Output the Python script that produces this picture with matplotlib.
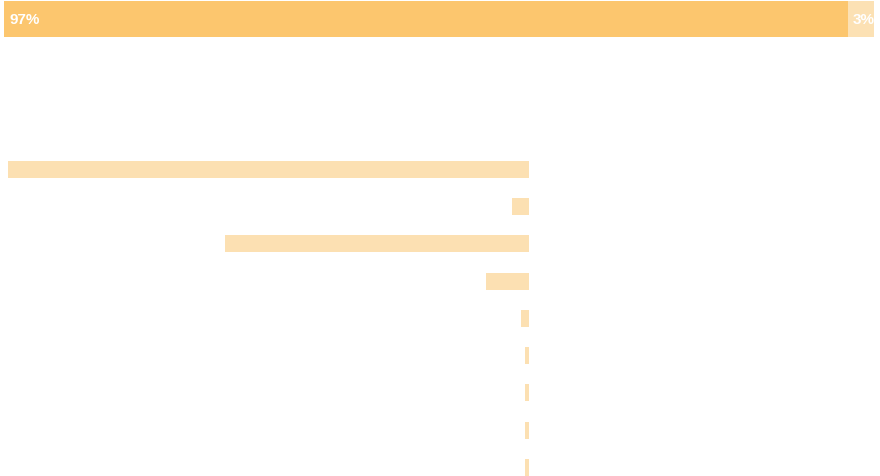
import matplotlib
matplotlib.use("Agg")
import matplotlib.pyplot as plt

share_labels = ["97%", "3%"]
share_values = [97, 3]
share_colors = ["#FCC66E", "#FCE1B4"]

categories = ["c1", "c2", "c3", "c4", "c5", "c6", "c7", "c8", "c9"]
values = [521, 17, 304, 43, 8, 4, 4, 4, 4]
bar_color = "#FCE0B2"

W, H = 880, 477
fig = plt.figure(figsize=(W/100, H/100), dpi=100)

# top stacked bar
ax1 = fig.add_axes([4/W, 1 - 38/H, 870/W, 36/H])
left = 0
for lab, v, c in zip(share_labels, share_values, share_colors):
    ax1.barh(0, v, left=left, height=1, color=c)
    ax1.text(left + 0.6, 0, lab, color="white", fontsize=11, fontweight="bold",
             va="center", ha="left", family="Liberation Sans")
    left += v
ax1.set_xlim(0, sum(share_values))
ax1.set_ylim(-0.5, 0.5)
ax1.axis("off")

# lower bars extending leftward
top_px, step = 151.5, 37.3
n = len(values)
ax2 = fig.add_axes([8/W, 1 - (top_px + n*step)/H, 521/W, n*step/H])
ax2.barh(range(n), values, height=17/step, color=bar_color)
ax2.set_xlim(max(values), 0)
ax2.set_ylim(n - 0.5, -0.5)
ax2.axis("off")

fig.savefig("out.png", dpi=100)
